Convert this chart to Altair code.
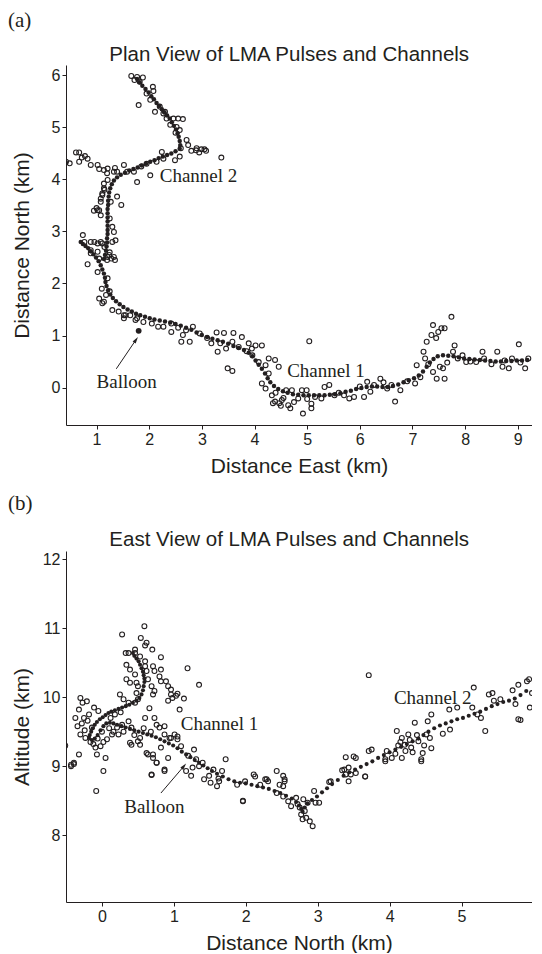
import altair as alt
import pandas as pd

ink = "#231f20"

# ---------------- Panel (a): plan view ----------------
a_pulses = [
    (1.66,5.99),(1.77,5.97),(1.88,5.96),(1.82,5.88),(1.72,5.91),(2.07,5.78),(2.08,5.70),(1.80,5.43),
    (2.02,5.53),(2.11,5.30),(2.27,5.27),(2.33,5.17),(2.46,5.17),(2.55,5.17),(2.64,5.16),(2.52,5.01),
    (2.58,4.95),(2.71,4.76),(2.74,4.66),(2.80,4.55),(2.89,4.56),(2.99,4.58),(3.05,4.58),(3.08,4.55),
    (3.37,4.42),(2.58,4.44),(2.49,4.37),(2.24,4.53),(2.27,4.40),(2.14,4.34),(2.02,4.08),(1.77,3.95),
    (1.71,4.15),(1.58,4.15),(1.52,4.28),(1.39,4.15),(1.33,4.15),(1.21,4.21),(1.14,4.18),(1.02,4.28),
    (0.89,4.28),(0.83,4.40),(0.67,4.52),(0.61,4.52),(0.67,4.34),(0.49,4.31),(0.42,4.34),(1.21,3.99),
    (1.14,3.92),(1.11,3.73),(1.08,3.63),(1.02,3.41),(1.08,3.31),(1.39,3.67),(1.47,3.51),(1.27,3.57),
    (1.30,3.09),(1.33,2.99),(1.30,2.80),(0.74,2.93),(0.77,2.80),(0.89,2.80),(1.02,2.77),(1.11,2.77),
    (1.95,5.65),(2.20,5.40),(2.30,5.30),(2.40,5.05),(2.50,4.90),(2.60,4.60),(2.90,4.60),(2.95,4.52),
    (1.95,4.30),(1.85,4.25),(0.78,4.45),(0.72,4.42),(1.05,4.20),(1.20,4.12),(1.35,4.22),(0.95,3.40),
    (1.00,3.45),(1.15,3.80),(1.25,3.25),(1.14,3.83),(1.11,3.70),(1.08,3.57),(1.05,3.41),(1.36,2.83),
    (0.96,2.80),(1.08,2.80),(0.89,2.64),(1.02,2.61),(1.24,2.55),(1.33,2.51),(0.83,2.37),(1.02,2.22),
    (1.21,2.10),(1.05,1.71),(1.14,1.65),(1.30,1.49),(1.42,1.46),(1.52,1.39),(1.64,1.39),(1.77,1.33),
    (1.20,2.45),(1.28,2.48),(1.25,2.60),(1.15,2.70),(1.35,2.45),(1.10,1.90),(1.25,1.85),(1.18,1.78),
    (0.89,2.58),(1.05,2.48),(1.21,2.51),(1.11,1.62),(1.55,1.39),(1.74,1.30),(1.89,1.26),(2.17,1.17),
    (2.42,1.23),(2.42,1.07),(2.64,1.01),(2.83,1.17),(2.61,0.88),(2.77,0.88),(2.96,1.04),(3.28,1.06),
    (3.42,1.05),(3.60,1.05),(3.76,0.97),(3.18,0.85),(3.30,0.69),(3.46,0.75),(3.58,0.88),(3.49,0.37),
    (3.58,0.32),(3.89,0.85),(4.02,0.81),(4.14,0.81),(3.96,0.62),(4.08,0.49),(4.21,0.43),(4.27,0.56),
    (4.39,0.53),(4.46,0.40),(4.27,0.27),(4.14,0.08),(4.21,-0.02),(4.33,-0.15),(4.39,-0.27),(4.52,-0.24),
    (4.64,-0.34),(4.71,-0.05),(4.83,-0.21),(4.92,-0.50),(5.08,-0.31),(5.08,-0.40),(4.99,-0.05),(5.04,0.89),
    (5.33,0.01),(5.42,0.05),(5.27,-0.21),(5.52,-0.15),(5.80,-0.21),(5.89,-0.18),(6.08,-0.18),(6.14,0.11),
    (6.27,0.05),(6.39,0.17),(6.52,-0.02),(6.67,-0.27),(6.77,-0.05),(7.05,0.08),(7.08,0.43),(7.21,0.69),
    (7.24,0.56),(7.27,0.88),(7.36,1.01),(7.39,1.20),(7.49,1.07),(7.55,1.14),(7.61,1.14),(7.74,1.36),
    (7.39,0.30),(7.46,0.17),(7.58,0.37),(7.61,0.17),(7.77,0.69),(7.80,0.81),(7.86,0.56),(8.02,0.49),
    (8.33,0.69),(8.36,0.56),(8.61,0.69),(8.71,0.40),(8.83,0.37),(9.02,0.83),(9.14,0.37),(9.20,0.56),
    (8.89,0.56),(8.21,0.49),(1.52,1.33),(2.05,1.23),(2.27,1.17),(2.55,1.15),(2.70,1.10),(3.10,0.95),
    (3.35,0.85),(3.70,0.78),(4.40,-0.10),(4.47,-0.30),(4.55,-0.20),(4.60,-0.05),(4.75,-0.28),(5.00,-0.22),
    (5.15,-0.18),(5.60,-0.10),(5.70,-0.15),(6.00,0.02),(6.20,-0.08),(6.45,0.10),(6.60,0.05),(6.90,0.12),
    (7.15,0.20),(7.30,0.45),(7.45,0.95),(7.52,0.40),(7.66,0.48),(7.95,0.62),(8.10,0.50),(8.50,0.45),
    (8.75,0.52),(9.05,0.48),(4.35,-0.30),(4.50,-0.35),(4.68,-0.40),(4.90,-0.05),(3.85,0.70),(3.95,0.75),
]

a_channel = [
    (1.77,5.93),(1.82,5.87),(1.87,5.80),(1.93,5.74),(1.99,5.67),(2.04,5.60),(2.09,5.54),(2.14,5.47),
    (2.19,5.41),(2.24,5.35),(2.29,5.29),(2.34,5.23),(2.39,5.17),(2.43,5.10),(2.47,5.03),(2.51,4.96),
    (2.54,4.89),(2.56,4.82),(2.58,4.74),(2.59,4.66),(2.58,4.59),(2.50,4.54),(2.42,4.50),(2.34,4.47),
    (2.26,4.44),(2.18,4.41),(2.10,4.37),(2.02,4.34),(1.94,4.30),(1.86,4.27),(1.78,4.23),(1.70,4.20),
    (1.62,4.17),(1.54,4.13),(1.46,4.09),(1.39,4.04),(1.33,3.98),(1.29,3.91),(1.26,3.83),(1.24,3.75),
    (1.23,3.67),(1.22,3.59),(1.22,3.51),(1.21,3.43),(1.21,3.35),(1.21,3.27),(1.21,3.19),(1.21,3.11),
    (1.21,3.03),(1.21,2.95),(1.20,2.87),(1.20,2.79),(1.19,2.71),(1.18,2.63),(1.16,2.55),(1.14,2.47),
    (0.70,2.80),(0.74,2.76),(0.79,2.72),(0.84,2.68),(0.89,2.62),(0.94,2.56),(0.99,2.50),(1.04,2.43),
    (1.08,2.35),(1.11,2.27),(1.14,2.19),(1.16,2.11),(1.17,2.03),(1.19,1.95),(1.22,1.87),(1.26,1.79),
    (1.31,1.72),(1.37,1.66),(1.44,1.60),(1.51,1.55),(1.59,1.50),(1.67,1.46),(1.75,1.42),(1.83,1.39),
    (1.92,1.36),(2.01,1.33),(2.10,1.31),(2.20,1.29),(2.30,1.27),(2.40,1.25),(2.50,1.22),(2.60,1.19),
    (2.70,1.15),(2.80,1.11),(2.90,1.06),(3.00,1.01),(3.10,0.97),(3.20,0.94),(3.30,0.91),(3.40,0.88),
    (3.50,0.84),(3.60,0.80),(3.70,0.76),(3.80,0.72),(3.89,0.67),(3.96,0.60),(4.02,0.52),(4.08,0.44),
    (4.14,0.36),(4.20,0.27),(4.25,0.18),(4.30,0.10),(4.37,0.03),(4.45,-0.03),(4.54,-0.07),(4.63,-0.10),
    (4.73,-0.13),(4.83,-0.14),(4.93,-0.15),(5.03,-0.15),(5.13,-0.15),(5.23,-0.15),(5.33,-0.15),(5.43,-0.14),
    (5.53,-0.13),(5.63,-0.11),(5.73,-0.08),(5.83,-0.06),(5.93,-0.03),(6.03,-0.01),(6.13,0.01),(6.23,0.02),
    (6.33,0.02),(6.43,0.01),(6.53,0.01),(6.63,0.03),(6.73,0.06),(6.83,0.10),(6.93,0.14),(7.03,0.18),
    (7.12,0.23),(7.20,0.31),(7.27,0.40),(7.33,0.48),(7.40,0.55),(7.48,0.60),(7.58,0.62),(7.68,0.61),
    (7.78,0.60),(7.88,0.58),(7.98,0.56),(8.08,0.55),(8.18,0.54),(8.28,0.53),(8.38,0.52),(8.48,0.51),
    (8.58,0.50),(8.68,0.50),(8.78,0.51),(8.88,0.51),(8.98,0.52),(9.08,0.52),(9.18,0.53),
]

a_balloon = [(1.80, 1.09)]
a_text = [("Channel 2", 2.20, 4.07), ("Balloon", 1.00, 0.11), ("Channel 1", 4.62, 0.32)]
a_arrow = [(1.375, 0.36, 1.75, 0.92)]
a_head_angle = 34

# ---------------- Panel (b): east view ----------------
b_pulses = [
    (-0.51,9.30),(-0.43,9.02),(-0.39,9.05),(-0.32,9.17),(-0.37,9.70),(-0.30,9.99),(-0.27,9.92),(-0.21,9.94),
    (-0.32,9.82),(-0.34,9.58),(-0.30,9.46),(-0.23,9.41),(-0.25,9.70),(-0.18,9.75),(-0.11,9.85),(-0.05,9.80),
    (-0.14,9.56),(-0.09,9.27),(-0.02,9.29),(0.05,9.12),(-0.07,9.17),(0.07,9.39),(0.14,9.46),(0.23,9.46),
    (0.21,9.56),(0.28,9.60),(0.37,9.65),(0.41,9.56),(0.39,9.34),(0.53,9.41),(0.53,9.31),(0.64,9.17),
    (0.71,9.12),(0.76,9.05),(0.76,9.60),(0.73,9.70),(0.80,9.56),(0.87,9.58),(0.87,9.46),(0.94,9.41),
    (1.01,9.46),(1.05,9.39),(0.60,9.70),(0.66,9.84),(1.08,9.82),(0.25,10.04),(0.30,9.97),(0.37,9.92),
    (0.46,9.92),(0.50,9.97),(0.50,10.16),(0.48,10.06),(0.34,10.26),(0.39,10.21),(0.48,10.21),(0.46,10.33),
    (0.34,10.47),(0.39,10.40),(0.33,10.64),(0.37,10.64),(0.46,10.64),(0.46,10.69),(0.53,10.59),(0.60,10.52),
    (0.60,10.45),(0.62,10.38),(0.64,10.26),(0.69,10.16),(0.73,10.09),(0.71,10.45),(0.73,10.38),(0.82,10.40),
    (0.80,10.30),(0.82,10.23),(0.89,10.23),(0.92,10.16),(0.96,10.11),(0.96,10.04),(0.98,9.99),(1.03,10.02),
    (1.05,10.05),(1.14,9.98),(1.19,10.42),(1.35,10.18),(0.82,10.58),(0.70,10.69),(0.60,10.75),(0.62,10.79),
    (0.54,10.86),(0.59,11.03),(0.28,10.91),(0.71,10.04),(0.92,9.95),(-0.28,9.62),(-0.24,9.52),(-0.20,9.66),
    (-0.16,9.35),(-0.12,9.32),(-0.06,9.40),(0.00,9.50),(0.02,9.35),(0.10,9.55),(0.16,9.50),(0.12,9.70),
    (0.18,9.75),(0.26,9.78),(0.30,9.50),(0.45,9.45),(0.58,9.55),(0.68,9.50),
    (0.41,9.31),(0.50,9.36),(0.62,9.19),(0.69,8.88),(0.71,9.17),(0.76,9.05),(0.82,9.27),(0.87,8.95),
    (0.92,9.12),(0.96,9.41),(1.05,9.43),(1.10,9.29),(1.17,8.93),(1.24,8.86),(1.26,8.98),(1.28,9.24),
    (1.31,9.10),(1.40,9.05),(1.42,8.81),(1.49,8.86),(1.51,8.76),(1.60,8.71),(1.63,8.78),(1.67,8.93),
    (1.72,9.10),(1.88,8.73),(1.96,8.50),(1.99,8.78),(2.11,8.88),(2.20,8.73),(2.27,8.81),(2.31,8.78),
    (2.43,8.93),(2.47,8.73),(2.52,8.86),(2.54,8.78),(2.43,8.61),(2.52,8.56),(2.59,8.49),(2.63,8.42),
    (2.70,8.54),(2.75,8.40),(2.77,8.30),(2.82,8.35),(2.84,8.25),(2.86,8.47),(2.95,8.64),(2.97,8.47),
    (2.93,8.13),(2.89,8.20),(2.79,8.23),(-0.43,9.00),(-0.39,9.03),(0.02,8.93),(-0.08,8.64),(0.69,8.87),
    (0.87,8.93),(1.96,8.49),(2.13,8.85),(2.29,8.81),(2.54,8.81),(2.52,8.71),(3.02,8.47),(3.16,8.77),
    (3.34,8.94),(3.43,8.98),(3.46,8.88),(3.53,8.90),(3.66,8.85),(3.94,9.07),(4.44,9.07),(1.20,9.15),
    (1.35,9.00),(1.55,8.95),(1.62,8.82),(2.72,8.45),(2.80,8.52),
    (3.71,10.32),(3.39,9.13),(3.50,9.14),(3.53,9.12),(3.71,9.22),(3.75,9.24),(3.66,8.85),(3.37,8.95),
    (3.43,8.78),(3.39,8.88),(3.18,8.78),(4.10,9.51),(4.17,9.41),(4.21,9.31),(4.26,9.46),(4.30,9.27),
    (4.35,9.63),(4.40,9.36),(4.44,9.10),(4.46,9.19),(4.51,9.46),(4.53,9.65),(4.58,9.75),(4.56,9.41),
    (4.58,9.26),(4.03,9.12),(3.94,9.10),(3.96,9.22),(4.17,9.12),(4.74,9.47),(4.83,9.82),(4.94,9.85),
    (5.17,10.14),(5.15,9.85),(5.22,9.75),(5.27,9.70),(5.33,9.51),(5.38,10.04),(5.43,10.06),(5.45,9.95),
    (5.54,9.97),(5.71,10.10),(5.79,10.18),(5.91,10.23),(5.94,10.26),(5.98,10.06),(5.95,9.85),(5.79,9.68),
    (5.82,9.67),(5.75,9.90),(4.84,9.53),(4.12,9.30),(4.22,9.22),(4.32,9.20),(4.38,9.45),(4.48,9.30),
    (4.28,9.38),(4.08,9.18),(4.15,9.35),
]

b_channel = [
    (0.43,10.64),(0.45,10.60),(0.48,10.56),(0.51,10.52),(0.53,10.47),(0.55,10.42),(0.57,10.37),(0.58,10.32),
    (0.59,10.27),(0.59,10.22),(0.58,10.16),(0.57,10.10),(0.55,10.04),(0.52,9.99),(0.48,9.95),(0.43,9.92),
    (0.38,9.89),(0.33,9.87),(0.28,9.85),(0.23,9.83),(0.18,9.81),(0.13,9.79),(0.09,9.77),(0.05,9.74),
    (0.01,9.71),(-0.03,9.68),(-0.07,9.64),(-0.10,9.60),(-0.13,9.55),(-0.15,9.50),(-0.17,9.45),(-0.18,9.41),
    (-0.14,9.38),(-0.10,9.40),(-0.06,9.45),(-0.02,9.52),(0.02,9.58),(0.06,9.62),(0.11,9.63),(0.16,9.62),
    (0.21,9.60),(0.27,9.58),(0.33,9.56),(0.39,9.54),(0.45,9.52),(0.51,9.50),(0.57,9.48),(0.63,9.46),
    (0.69,9.44),(0.75,9.42),(0.81,9.39),(0.87,9.36),(0.93,9.33),(0.99,9.30),(1.05,9.26),(1.11,9.21),
    (1.17,9.17),(1.23,9.13),(1.29,9.09),(1.35,9.05),(1.41,9.01),(1.47,8.97),(1.53,8.93),(1.60,8.89),
    (1.68,8.85),(1.76,8.81),(1.84,8.78),(1.92,8.76),(2.00,8.75),(2.08,8.73),(2.16,8.71),(2.24,8.69),
    (2.32,8.67),(2.40,8.64),(2.48,8.61),(2.56,8.57),(2.64,8.53),(2.70,8.48),(2.74,8.43),(2.77,8.38),
    (2.79,8.34),(2.82,8.40),(2.86,8.46),(2.92,8.51),(2.99,8.56),(3.06,8.62),(3.13,8.68),(3.20,8.74),
    (3.28,8.80),(3.36,8.86),(3.44,8.91),(3.52,8.95),(3.60,8.99),(3.68,9.03),(3.76,9.07),(3.84,9.12),
    (3.92,9.16),(4.00,9.20),(4.08,9.24),(4.16,9.28),(4.24,9.32),(4.32,9.36),(4.40,9.40),(4.47,9.45),
    (4.54,9.50),(4.62,9.55),(4.70,9.59),(4.78,9.62),(4.86,9.65),(4.94,9.68),(5.02,9.70),(5.10,9.73),
    (5.18,9.76),(5.26,9.79),(5.34,9.83),(5.42,9.87),(5.50,9.90),(5.58,9.93),(5.66,9.95),(5.74,9.98),
    (5.82,10.03),(5.90,10.09),
]

b_text = [("Channel 1", 1.095, 9.61), ("Channel 2", 4.06, 9.99), ("Balloon", 0.31, 8.41)]
b_arrow = [(0.82, 8.61, 1.14, 9.00)]
b_head_angle = 40

a_xticks = [1, 2, 3, 4, 5, 6, 7, 8, 9]
a_yticks = [0, 1, 2, 3, 4, 5, 6]
b_xticks = [0, 1, 2, 3, 4, 5]
b_yticks = [8, 9, 10, 11, 12]

SANS = "Liberation Sans"
SERIF = "Liberation Serif"
ARROW = "M0,-1L-0.55,1L0.55,1Z"
W = 466
LEFT = -58


def pts(lst):
    return pd.DataFrame(lst, columns=["x", "y"])


def panel(pulses, channel, balloon, texts, arrow, head_angle, xdom, ydom, xticks, yticks,
          xtitle, ytitle, title, tag, w, h, dot_size, tag_y, title_y):
    xs = alt.Scale(domain=xdom, nice=False, zero=False)
    ys = alt.Scale(domain=ydom, nice=False, zero=False)
    X = alt.X("x:Q", scale=xs, axis=alt.Axis(values=xticks, title=xtitle, format="d"))
    Y = alt.Y("y:Q", scale=ys, axis=alt.Axis(values=yticks, title=ytitle, format="d",
                                             titleX=-44, titleY=h / 2, titleBaseline="middle"))
    layers = []
    layers.append(alt.Chart(pts(pulses)).mark_point(shape="circle", filled=False, size=24,
                                                    strokeWidth=1.1, color=ink, opacity=1,
                                                    clip=True)
                  .encode(x=X, y=Y))
    layers.append(alt.Chart(pts(channel)).mark_circle(size=dot_size, color=ink, opacity=1,
                                                      clip=True)
                  .encode(x=X, y=Y))
    if balloon:
        layers.append(alt.Chart(pts(balloon)).mark_circle(size=34, color=ink, opacity=1)
                      .encode(x=X, y=Y))
    adf = pd.DataFrame(arrow, columns=["x", "y", "x2", "y2"])
    layers.append(alt.Chart(adf).mark_rule(color=ink, strokeWidth=1)
                  .encode(x=X, y=Y, x2="x2:Q", y2="y2:Q"))
    hdf = pd.DataFrame({"x": [a[2] for a in arrow], "y": [a[3] for a in arrow]})
    layers.append(alt.Chart(hdf).mark_point(shape=ARROW, filled=True, size=45, color=ink,
                                            opacity=1, angle=head_angle, strokeWidth=0)
                  .encode(x=X, y=Y))
    tdf = pd.DataFrame(texts, columns=["label", "x", "y"])
    layers.append(alt.Chart(tdf).mark_text(font=SERIF, fontSize=19, align="left",
                                           baseline="middle", color=ink)
                  .encode(x=X, y=Y, text="label:N"))
    tagdf = pd.DataFrame({"label": [tag]})
    layers.append(alt.Chart(tagdf).mark_text(font=SERIF, fontSize=21, align="left",
                                             baseline="middle", color=ink)
                  .encode(x=alt.value(LEFT), y=alt.value(tag_y), text="label:N"))
    titledf = pd.DataFrame({"label": [title]})
    layers.append(alt.Chart(titledf).mark_text(font=SANS, fontSize=20.5, align="center",
                                               baseline="alphabetic", color=ink)
                  .encode(x=alt.value(w * 0.479), y=alt.value(title_y), text="label:N"))
    return alt.layer(*layers).properties(width=w, height=h)


pa = panel(a_pulses, a_channel, a_balloon, a_text, a_arrow, a_head_angle,
           [0.42, 9.27], [-0.72, 6.2], a_xticks, a_yticks,
           "Distance East (km)", "Distance North (km)",
           "Plan View of LMA Pulses and Channels", "(a)", W, 360, 20, -44, -4)
pb = panel(b_pulses, b_channel, [], b_text, b_arrow, b_head_angle,
           [-0.5, 5.98], [7.03, 12.12], b_xticks, b_yticks,
           "Distance North (km)", "Altitude (km)",
           "East View of LMA Pulses and Channels", "(b)", W, 351, 17, -47, -5)

chart = alt.vconcat(pa, pb, spacing=17).properties(
    padding={"top": 2, "left": 0, "right": 0, "bottom": 0}
).configure_view(
    strokeWidth=0
).configure_axis(
    grid=False, domainColor=ink, tickColor=ink, labelColor=ink, titleColor=ink,
    labelFont=SANS, titleFont=SANS, labelFontSize=16, titleFontSize=21,
    titleFontWeight="normal", tickSize=4, labelPadding=2, titlePadding=8,
    domainWidth=1, tickWidth=1,
)

chart.save("out.html", embed_options={"renderer": "svg", "actions": False})
